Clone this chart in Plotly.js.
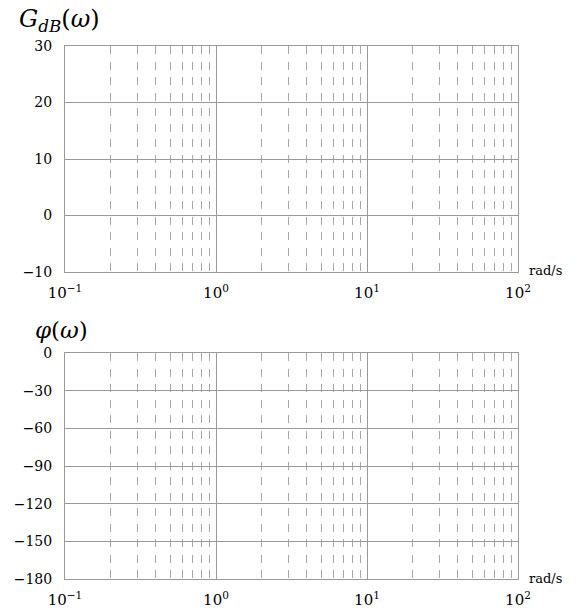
<!DOCTYPE html>
<html>
<head>
<meta charset="utf-8">
<script src="https://cdn.plot.ly/plotly-3.0.1.min.js"></script>
<style>
  html, body { margin: 0; padding: 0; background: #fff; }
  #bode { width: 587px; height: 610px; }
</style>
</head>
<body>
<div id="bode"></div>
<script>
// Blank Bode chart: magnitude (dB) over phase (degrees), log frequency axis.
const decadeVals = [0.1, 1, 10, 100];
const decadeText = ['10<sup>\u22121</sup>', '10<sup>0</sup>', '10<sup>1</sup>', '10<sup>2</sup>'];
const minorVals = [0.2, 0.3, 0.4, 0.5, 0.6, 0.7, 0.8, 0.9,
                   2, 3, 4, 5, 6, 7, 8, 9,
                   20, 30, 40, 50, 60, 70, 80, 90];
const gainTicks = [-10, 0, 10, 20, 30];
const phaseTicks = [-180, -150, -120, -90, -60, -30, 0];

const serif = 'DejaVu Serif, Liberation Serif, serif';
const frameColor = '#9a9a9a';
const gridColor = '#9a9a9a';
const minorColor = '#a8a8a8';

function freqAxis(anchor) {
  return {
    type: 'log',
    range: [Math.log10(decadeVals[0]), Math.log10(decadeVals[decadeVals.length - 1])],
    tickmode: 'array',
    tickvals: decadeVals,
    ticktext: decadeText,
    ticks: '',
    ticklabelstandoff: 7,
    showgrid: true,
    gridcolor: gridColor,
    gridwidth: 1,
    zeroline: false,
    showline: true,
    mirror: true,
    linecolor: frameColor,
    linewidth: 1,
    tickfont: { family: serif, size: 15, color: '#000' },
    anchor: anchor,
    minor: {
      tickmode: 'array',
      tickvals: minorVals,
      showgrid: true,
      gridcolor: minorColor,
      gridwidth: 1,
      griddash: '8px,7.5px',
      ticks: ''
    }
  };
}

function valueAxis(ticks, anchor, domain) {
  return {
    range: [ticks[0], ticks[ticks.length - 1]],
    tickmode: 'array',
    tickvals: ticks,
    ticktext: ticks.map(v => (v < 0 ? '\u2212' + Math.abs(v) : String(v))),
    ticks: '',
    ticklabelstandoff: 9,
    showgrid: true,
    gridcolor: gridColor,
    gridwidth: 1,
    zeroline: false,
    showline: true,
    mirror: true,
    linecolor: frameColor,
    linewidth: 1,
    tickfont: { family: serif, size: 14, color: '#000' },
    anchor: anchor,
    domain: domain
  };
}

const traces = [
  { type: 'scatter', x: [], y: [], xaxis: 'x', yaxis: 'y', showlegend: false },
  { type: 'scatter', x: [], y: [], xaxis: 'x2', yaxis: 'y2', showlegend: false }
];

const layout = {
  width: 587,
  height: 610,
  margin: { l: 65, r: 69, t: 46, b: 31 },
  paper_bgcolor: '#fff',
  plot_bgcolor: '#fff',
  showlegend: false,
  xaxis: freqAxis('y'),
  yaxis: valueAxis(gainTicks, 'x', [0.576, 1]),
  xaxis2: freqAxis('y2'),
  yaxis2: valueAxis(phaseTicks, 'x2', [0, 0.424]),
  annotations: [
    { text: '<i>G</i><sub><i>dB</i></sub>(<i>\u03c9</i>)', xref: 'paper', yref: 'paper',
      x: 0, xshift: -48, xanchor: 'left', y: 1, yshift: 8, yanchor: 'bottom',
      showarrow: false, font: { family: serif, size: 24, color: '#000' } },
    { text: '<i>\u03c6</i>(<i>\u03c9</i>)', xref: 'paper', yref: 'paper',
      x: 0, xshift: -32, xanchor: 'left', y: 0.424, yshift: 8, yanchor: 'bottom',
      showarrow: false, font: { family: serif, size: 23, color: '#000' } },
    { text: 'rad/s', xref: 'paper', yref: 'paper',
      x: 1, xshift: 9, xanchor: 'left', y: 0.576, yshift: 1, yanchor: 'middle',
      showarrow: false, font: { family: serif, size: 13, color: '#000' } },
    { text: 'rad/s', xref: 'paper', yref: 'paper',
      x: 1, xshift: 9, xanchor: 'left', y: 0, yshift: 1, yanchor: 'middle',
      showarrow: false, font: { family: serif, size: 13, color: '#000' } }
  ]
};

Plotly.newPlot('bode', traces, layout, { displayModeBar: false, staticPlot: true });
</script>
</body>
</html>
